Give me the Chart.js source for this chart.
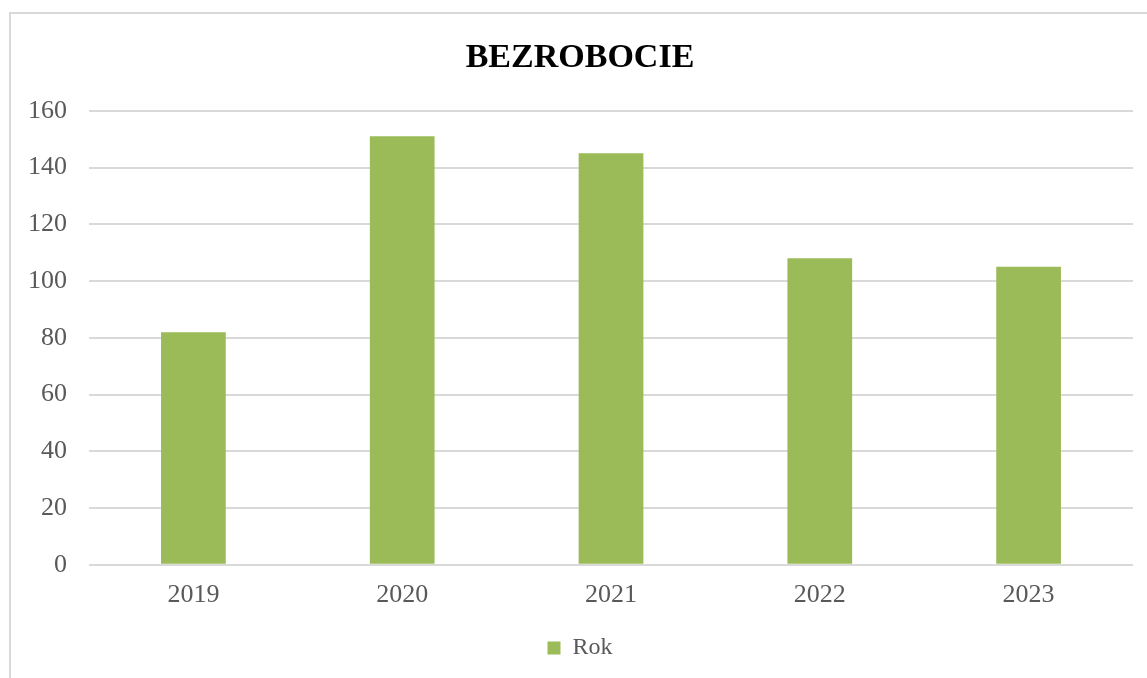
<!DOCTYPE html>
<html>
<head>
<meta charset="utf-8">
<script src="https://cdn.jsdelivr.net/npm/chart.js@4/dist/chart.umd.min.js"></script>
<style>
  html, body { margin: 0; padding: 0; background: #fff; overflow: hidden; }
  #frame {
    position: absolute; left: 9px; top: 12px;
    width: 1150px; height: 680px;
    border: 2px solid #d9d9d9;
    background: #fff;
  }
  #chart { display: block; }
</style>
</head>
<body>
<div id="frame"><canvas id="chart" width="1150" height="680"></canvas></div>
<script>
// data
var years = ["2019", "2020", "2021", "2022", "2023"];
var rok = [82, 151, 145, 108, 105];
var seriesName = "Rok";
var chartTitle = "BEZROBOCIE";
var yMin = 0, yMax = 160, yStep = 20;

var serif = "'Liberation Serif', 'DejaVu Serif', serif";
var grey = "#595959";

new Chart(document.getElementById("chart"), {
  type: 'bar',
  data: {
    labels: years,
    datasets: [{
      label: seriesName,
      data: rok,
      backgroundColor: "#9BBB59",
      borderWidth: 0,
      barPercentage: 0.31,
      categoryPercentage: 1
    }]
  },
  options: {
    responsive: false,
    animation: false,
    layout: { padding: { left: 16, right: 28, top: 12, bottom: 24 } },
    plugins: {
      title: {
        display: true,
        text: chartTitle,
        color: "#000",
        font: { family: serif, size: 34, weight: 'bold' },
        padding: { top: 12, bottom: 32 }
      },
      legend: {
        display: true,
        position: 'bottom',
        labels: {
          color: grey,
          font: { family: serif, size: 24 },
          boxWidth: 13,
          boxHeight: 13,
          padding: 18
        }
      },
      tooltip: { enabled: false }
    },
    scales: {
      x: {
        grid: { display: false },
        border: { display: false },
        ticks: { color: grey, font: { family: serif, size: 26 }, padding: 7 }
      },
      y: {
        min: yMin,
        max: yMax,
        afterFit: function (axis) { axis.width = 62; },
        ticks: { stepSize: yStep, color: grey, font: { family: serif, size: 26 }, padding: 22 },
        grid: { color: "#d9d9d9", lineWidth: 2, drawTicks: false },
        border: { display: false }
      }
    }
  }
});
</script>
</body>
</html>
